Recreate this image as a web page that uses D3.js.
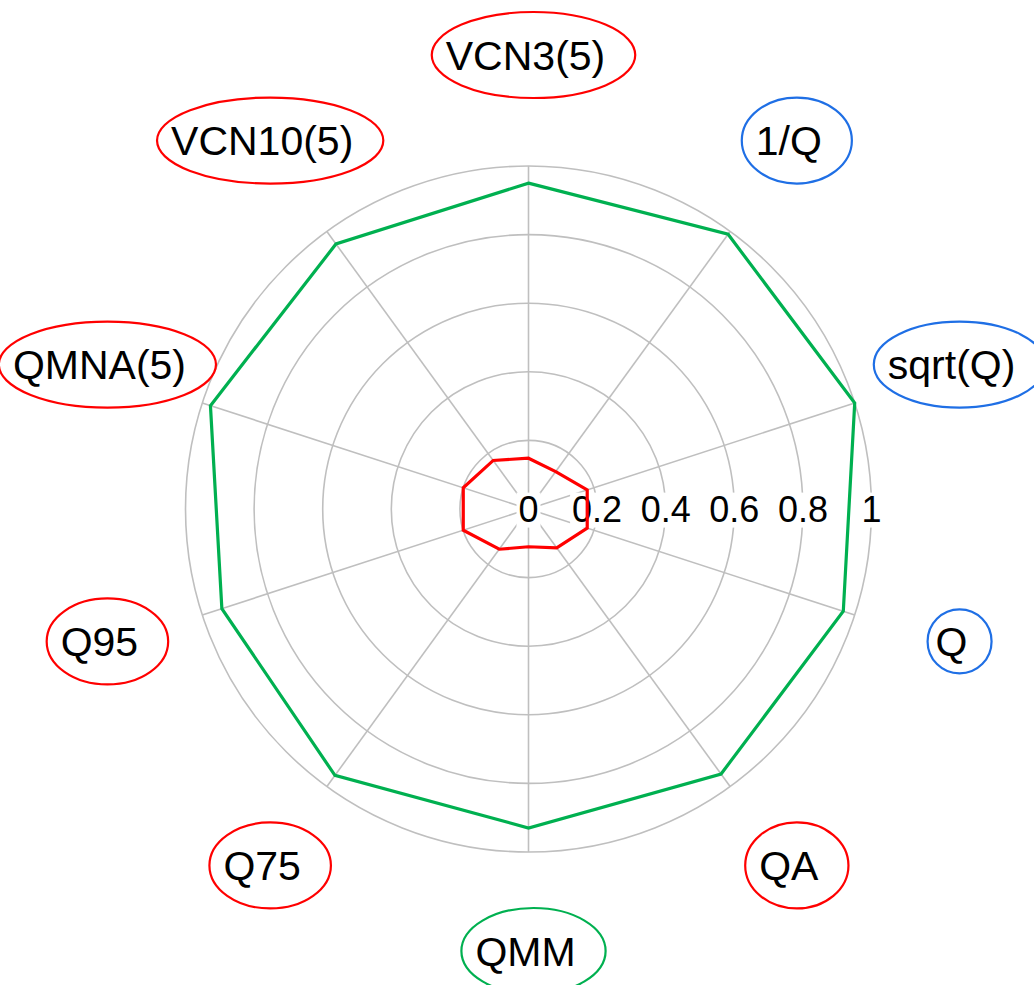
<!DOCTYPE html>
<html>
<head>
<meta charset="utf-8">
<script src="https://cdn.jsdelivr.net/npm/d3@7"></script>
<style>
  html, body { margin: 0; padding: 0; background: #fff; }
  text { font-family: "Liberation Sans", Arial, sans-serif; }
</style>
</head>
<body>
<div id="chart"></div>
<script>
const width = 1034;
const height = 985;

// axes, clockwise from the top
const axes = ['VCN3(5)', '1/Q', 'sqrt(Q)', 'Q', 'QA', 'QMM', 'Q75', 'Q95', 'QMNA(5)', 'VCN10(5)'];
const axisGroup = ['low', 'transform', 'transform', 'transform', 'low', 'monthly', 'low', 'low', 'low', 'low'];

// two series (outer green, inner red)
const seriesHigh = [0.95, 0.99, 1.0, 0.965, 0.955, 0.93, 0.96, 0.94, 0.975, 0.955];
const seriesLow = [0.148, 0.135, 0.18, 0.18, 0.14, 0.11, 0.145, 0.2, 0.2, 0.175];

const ticks = [0, 0.2, 0.4, 0.6, 0.8, 1];
const tickLabels = ['0', '0.2', '0.4', '0.6', '0.8', '1'];

const groupColor = {low: '#ff0000', transform: '#1f6fe5', monthly: '#00b050'};
const cx = 528.5, cy = 509;
const R = 343;
const labelDist = 448;
const labelShift = [5, -6]; // label ring sits a bit off the plot centre

const r = d3.scaleLinear().domain([0, 1]).range([0, R]);
const angle = d3.scaleLinear().domain([0, axes.length]).range([0, 2 * Math.PI]);

const svg = d3.select('#chart').append('svg')
    .attr('width', width)
    .attr('height', height);

const g = svg.append('g').attr('transform', 'translate(' + cx + ',' + cy + ')');

// rings
g.append('g').attr('id', 'rings')
    .selectAll('circle')
    .data(ticks.filter(t => t > 0))
    .enter().append('circle')
    .attr('r', d => r(d))
    .attr('fill', 'none')
    .attr('stroke', '#bfbfbf')
    .attr('stroke-width', 1.6);

// spokes
g.append('g').attr('id', 'spokes')
    .selectAll('line')
    .data(axes)
    .enter().append('line')
    .attr('x1', 0).attr('y1', 0)
    .attr('x2', (d, i) => r(1) * Math.sin(angle(i)))
    .attr('y2', (d, i) => -r(1) * Math.cos(angle(i)))
    .attr('stroke', '#bfbfbf')
    .attr('stroke-width', 1.6);

// tick labels with white boxes along the horizontal
const tickG = g.append('g').attr('id', 'ticks');
ticks.forEach((t, i) => {
    const lab = tickG.append('g');
    const txt = lab.append('text')
        .attr('x', r(t))
        .attr('y', 0)
        .attr('dy', '0.35em')
        .attr('text-anchor', 'middle')
        .attr('font-size', 36)
        .attr('fill', '#000')
        .text(tickLabels[i]);
    const bb = txt.node().getBBox();
    lab.insert('rect', 'text')
        .attr('x', bb.x - 2)
        .attr('y', bb.y + 4)
        .attr('width', bb.width + 4)
        .attr('height', bb.height - 6)
        .attr('fill', '#fff');
});

// series lines
const radar = d3.lineRadial()
    .angle((d, i) => angle(i))
    .radius(d => r(d))
    .curve(d3.curveLinearClosed);

g.append('path')
    .attr('d', radar(seriesHigh))
    .attr('fill', 'none')
    .attr('stroke', '#00b050')
    .attr('stroke-width', 3.2)
    .attr('stroke-linejoin', 'miter');

g.append('path')
    .attr('d', radar(seriesLow))
    .attr('fill', 'none')
    .attr('stroke', '#ff0000')
    .attr('stroke-width', 3.2)
    .attr('stroke-linejoin', 'miter');

// axis labels in ellipses
const labG = g.append('g').attr('id', 'labels')
    .attr('transform', 'translate(' + labelShift[0] + ',' + labelShift[1] + ')');
axes.forEach((name, i) => {
    const a = angle(i);
    const x = labelDist * Math.sin(a);
    const y = -labelDist * Math.cos(a);
    const lab = labG.append('g').attr('transform', 'translate(' + x + ',' + y + ')');
    const txt = lab.append('text')
        .attr('x', -8)
        .attr('y', 0)
        .attr('dy', '0.36em')
        .attr('text-anchor', 'middle')
        .attr('font-size', 41)
        .attr('fill', '#000')
        .text(name);
    const w = txt.node().getComputedTextLength();
    const single = name.length === 1;
    lab.insert('ellipse', 'text')
        .attr('cx', 0)
        .attr('cy', 0)
        .attr('rx', single ? 32 : w / 2 + 22)
        .attr('ry', single ? 32 : 43)
        .attr('fill', '#fff')
        .attr('stroke', groupColor[axisGroup[i]])
        .attr('stroke-width', 2.2);
});
</script>
</body>
</html>
